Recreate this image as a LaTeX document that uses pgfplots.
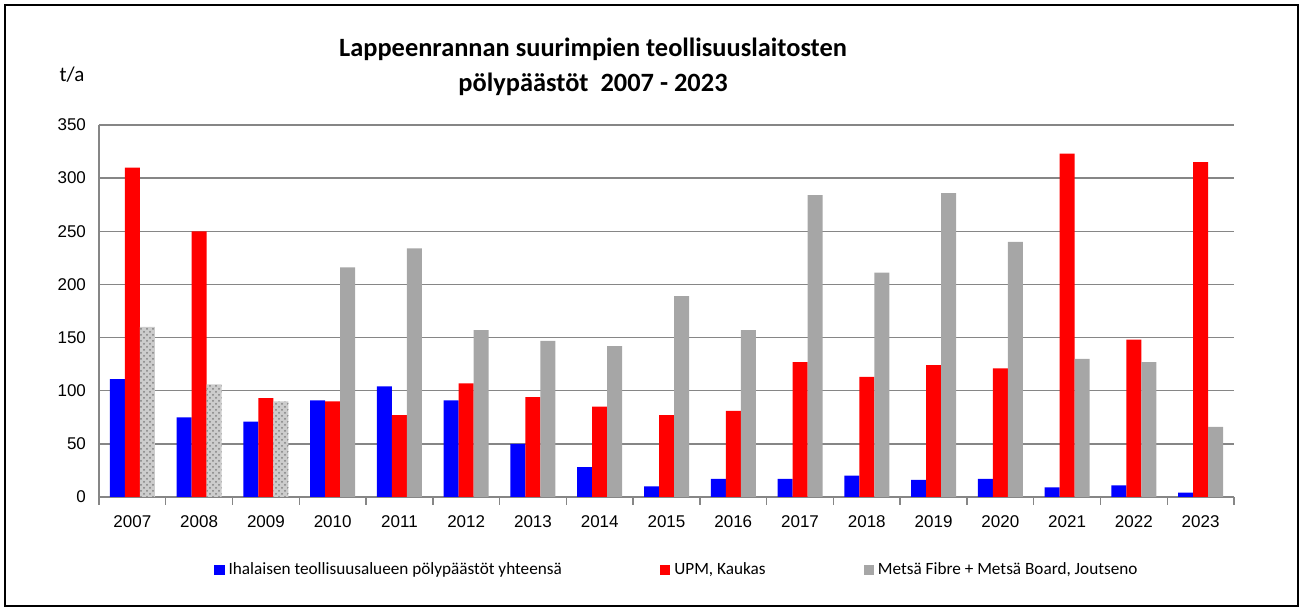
\documentclass[border=0pt]{standalone}
\usepackage{pgfplots}
\pgfplotsset{compat=1.18}
\usepackage{pgfplotstable}
\usepackage{fontspec}
\setmainfont{Carlito}
\newfontfamily\arialf{Liberation Sans}
\usetikzlibrary{patterns}
\definecolor{barblue}{RGB}{0,0,255}
\definecolor{barred}{RGB}{255,0,0}
\definecolor{bargray}{RGB}{166,166,166}
\definecolor{gridgray}{RGB}{134,134,134}

\pgfplotstableread{
x blue red
0 111 310
1 75 250
2 71 93
3 91 90
4 104 77
5 91 107
6 50 94
7 28 85
8 10 77
9 17 81
10 17 127
11 20 113
12 16 124
13 17 121
14 9 323
15 11 148
16 4 315
}\mainData

\pgfplotstableread{
x gray
3 216
4 234
5 157
6 147
7 142
8 189
9 157
10 284
11 211
12 286
13 240
14 130
15 127
16 66
}\grayData

\pgfplotstableread{
x gray
0 160
1 106
2 90
}\hatchData

\begin{document}
\begin{tikzpicture}[x=1pt,y=1pt]
\useasboundingbox (0,0) rectangle (651.5,304);
\draw[line width=1pt] (2.5,1) rectangle (649,301.5);
\node[font=\fontsize{13.2}{17.5}\selectfont\bfseries, align=center] at (296.5,270.5) {Lappeenrannan suurimpien teollisuuslaitosten\\pölypäästöt~ 2007 - 2023};
\node[font=\fontsize{10.5}{12}\selectfont] at (36,266.5) {t/a};
\begin{axis}[
  at={(49.5pt,55.5pt)}, anchor=south west,
  scale only axis, width=567.5pt, height=186pt,
  xmin=-0.5, xmax=16.5, ymin=0, ymax=350,
  ytick={0,50,...,350},
  xtick={0,...,16},
  xticklabels={2007,2008,2009,2010,2011,2012,2013,2014,2015,2016,2017,2018,2019,2020,2021,2022,2023},
  minor xtick={-0.5,0.5,...,16.5},
  major tick length=0pt,
  minor tick length=4pt,
  tick align=outside,
  axis x line*=bottom, axis y line*=left,
  axis line style={gridgray, line width=0.7pt, -},
  minor tick style={gridgray, line width=0.7pt},
  ymajorgrids,
  grid style={gridgray, line width=0.7pt},
  /pgf/number format/assume math mode=true,
  ticklabel style={font=\arialf\fontsize{8.5}{10}\selectfont},
  yticklabel style={xshift=-3pt},
  xticklabel style={yshift=-6pt},
  ybar, bar width=7.5pt,
  legend style={at={(0.51,-0.196)}, anchor=center, draw=none, fill=none,
    font=\fontsize{8.6}{10}\selectfont, legend columns=3,
    /tikz/every even column/.append style={column sep=47pt}},
  legend image code/.code={\fill[#1] (0pt,-2.6pt) rectangle (5.2pt,2.6pt);},
]
\addplot[fill=barblue, draw=none, bar shift=-7.5pt] table[x=x,y=blue]{\mainData};
\addlegendentry{Ihalaisen teollisuusalueen pölypäästöt yhteensä}
\addplot[fill=barred, draw=none, bar shift=0pt] table[x=x,y=red]{\mainData};
\addlegendentry{UPM, Kaukas}
\addplot[fill=bargray, draw=none, bar shift=7.5pt] table[x=x,y=gray]{\grayData};
\addlegendentry{Metsä Fibre + Metsä Board, Joutseno}
\addplot[fill=gray!40, draw=none, bar shift=7.5pt, postaction={pattern=crosshatch dots, pattern color=gray}, forget plot] table[x=x,y=gray]{\hatchData};
\end{axis}
\end{tikzpicture}
\end{document}
